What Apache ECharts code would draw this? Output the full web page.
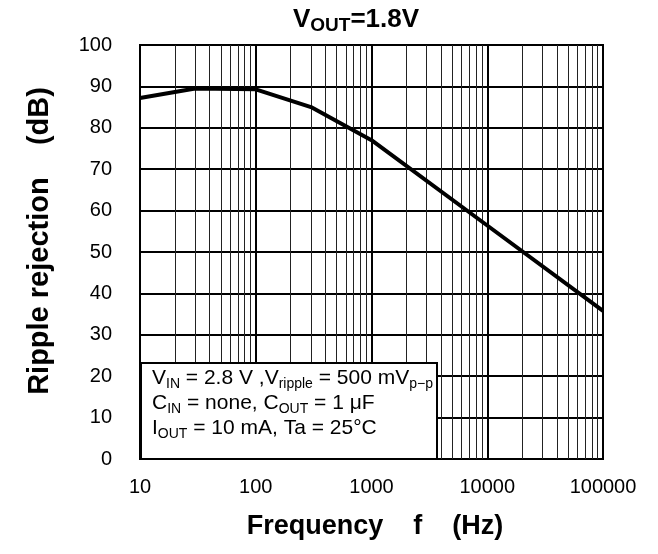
<!DOCTYPE html>
<html>
<head>
<meta charset="utf-8">
<script src="https://cdn.jsdelivr.net/npm/echarts@6/dist/echarts.min.js"></script>
<style>html,body{margin:0;padding:0;background:#fff}#c{width:658px;height:554px}</style>
</head>
<body>
<div id="c"></div>
<script>
// Data
const freqHz = [10, 30, 100, 300, 1000, 10000, 100000];
const rejectionDb = [87.2, 89.5, 89.3, 85.0, 77.0, 56.4, 35.8];
const xTicks = [10, 100, 1000, 10000, 100000];
const yTicks = [0, 10, 20, 30, 40, 50, 60, 70, 80, 90, 100];
const minorFreqs = [];
[10, 100, 1000, 10000].forEach(function (d) { for (let k = 2; k <= 9; k++) minorFreqs.push(d * k); });

const FONT = "'Liberation Sans', Arial, Helvetica, sans-serif";
const chart = echarts.init(document.getElementById('c'), null, { renderer: 'canvas' });

const option = {
  backgroundColor: '#fff',
  animation: false,
  grid: { left: 140, right: 55, top: 45, bottom: 95, show: true, borderColor: '#000', borderWidth: 2, backgroundColor: 'transparent', containLabel: false },
  xAxis: {
    type: 'log', logBase: 10, min: xTicks[0], max: xTicks[xTicks.length - 1],
    axisLine: { show: false }, axisTick: { show: false },
    axisLabel: { color: '#000', fontFamily: FONT, fontSize: 20, margin: 18, formatter: function (v) { return String(Math.round(v)); } },
    splitLine: { show: true, lineStyle: { color: '#000', width: 2 } },
    minorTick: { show: false }, minorSplitLine: { show: false }
  },
  yAxis: {
    type: 'value', min: yTicks[0], max: yTicks[yTicks.length - 1], interval: 10,
    axisLine: { show: false }, axisTick: { show: false },
    axisLabel: { color: '#000', fontFamily: FONT, fontSize: 20, margin: 28 },
    splitLine: { show: true, lineStyle: { color: '#000', width: 2 } }
  },
  series: [{
    type: 'line',
    data: freqHz.map(function (f, i) { return [f, rejectionDb[i]]; }),
    showSymbol: false, symbol: 'none',
    lineStyle: { color: '#000', width: 4 },
    z: 5,
    markLine: {
      silent: true, symbol: 'none', label: { show: false },
      lineStyle: { color: '#222', width: 1, type: 'solid' },
      data: minorFreqs.map(function (f) { return { xAxis: f }; }),
      z: 2
    }
  }],
  graphic: [
    {
      type: 'rect', z: 100,
      shape: { x: 141, y: 363, width: 296, height: 96 },
      style: { fill: '#fff', stroke: '#000', lineWidth: 2 }
    },
    {
      type: 'text', z: 101, left: 152, top: 368,
      style: {
        text: '{m|V}{s|IN}{m| = 2.8 V ,V}{s|ripple}{m| = 500 mV}{s|p\u2212p}\n{m|C}{s|IN}{m| = none, C}{s|OUT}{m| = 1 \u03bcF}\n{m|I}{s|OUT}{m| = 10 mA, Ta = 25\u00b0C}',
        fill: '#000', font: '21px ' + FONT,
        rich: {
          m: { fontSize: 21, fontFamily: FONT, lineHeight: 25, fill: '#000' },
          s: { fontSize: 14, fontFamily: FONT, lineHeight: 16, verticalAlign: 'bottom', fill: '#000' }
        }
      }
    },
    {
      type: 'text', z: 101, x: 356, y: 5,
      style: {
        text: '{m|V}{s|OUT}{m|=1.8V}',
        fill: '#000', font: 'bold 26px ' + FONT, align: 'center', verticalAlign: 'top',
        rich: {
          m: { fontSize: 26, fontWeight: 'bold', fontFamily: FONT, lineHeight: 30, fill: '#000' },
          s: { fontSize: 19, fontWeight: 'bold', fontFamily: FONT, lineHeight: 22, verticalAlign: 'bottom', fill: '#000' }
        }
      }
    },
    {
      type: 'text', z: 101, x: 375, y: 527,
      style: {
        text: 'Frequency    f    (Hz)', fill: '#000',
        font: 'bold 27px ' + FONT, textAlign: 'center', textVerticalAlign: 'middle'
      }
    },
    {
      type: 'text', z: 101, x: 40, y: 241, rotation: Math.PI / 2,
      style: {
        text: 'Ripple rejection    (dB)', fill: '#000',
        font: 'bold 29px ' + FONT, textAlign: 'center', textVerticalAlign: 'middle'
      }
    }
  ]
};
chart.setOption(option);
</script>
</body>
</html>
